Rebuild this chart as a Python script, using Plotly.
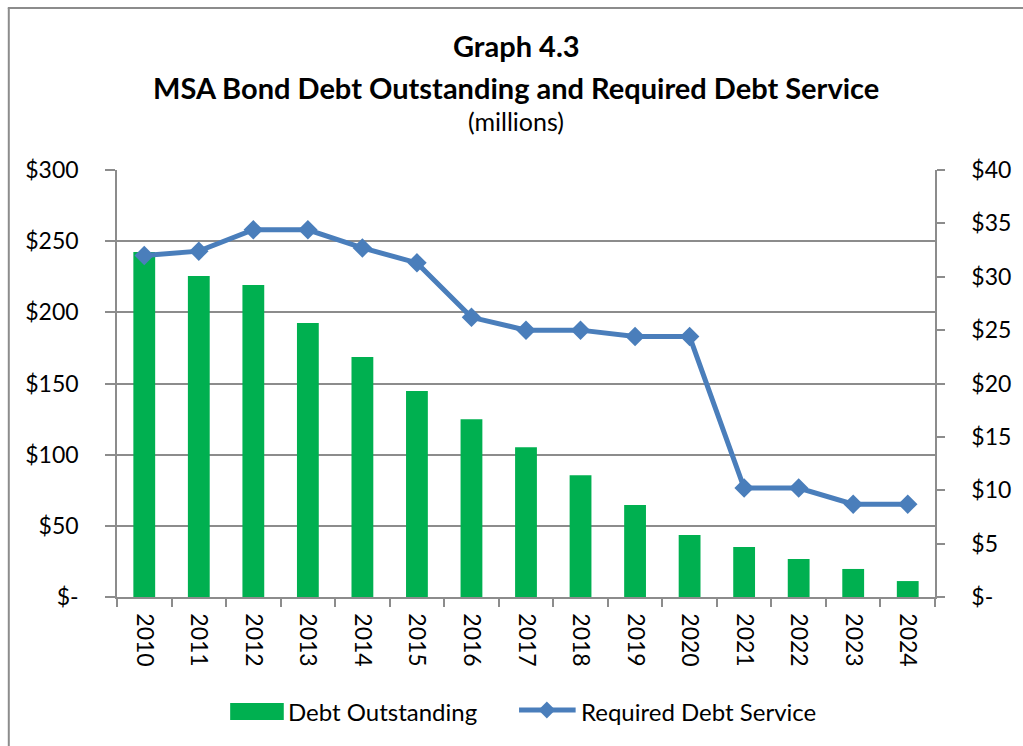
import plotly.graph_objects as go

years = ["2010", "2011", "2012", "2013", "2014", "2015", "2016", "2017",
         "2018", "2019", "2020", "2021", "2022", "2023", "2024"]
debt_outstanding = [242.4, 225.5, 219.2, 192.5, 168.6, 144.7, 124.8, 105.2,
                    85.5, 64.6, 43.6, 35.1, 26.7, 19.7, 11.2]
required_debt_service = [32.0, 32.4, 34.4, 34.4, 32.7, 31.3, 26.2, 25.0,
                         25.0, 24.4, 24.4, 10.2, 10.2, 8.7, 8.7]

left_ticks = [0, 50, 100, 150, 200, 250, 300]
left_labels = ["$-", "$50", "$100", "$150", "$200", "$250", "$300"]
right_ticks = [0, 5, 10, 15, 20, 25, 30, 35, 40]
right_labels = ["$-", "$5", "$10", "$15", "$20", "$25", "$30", "$35", "$40"]

FONT = "Lato"
GRID = "#8c8c8c"
GREEN = "#00B050"
BLUE = "#4A7EBB"

W, H = 1023, 746
L, R, T, B = 117, 82, 170, 149
PW, PH = W - L - R, H - T - B


def fx(x):
    """page pixel x -> paper fraction"""
    return (x - L) / PW


def fy(y):
    """page pixel y -> paper fraction"""
    return (H - B - y) / PH


fig = go.Figure()
fig.add_trace(go.Bar(
    x=years, y=debt_outstanding, name="Debt Outstanding",
    marker=dict(color=GREEN, line=dict(width=0)),
    yaxis="y",
))
fig.add_trace(go.Scatter(
    x=years, y=required_debt_service, name="Required Debt Service",
    mode="lines+markers",
    line=dict(color=BLUE, width=5),
    marker=dict(symbol="diamond", size=15, color=BLUE),
    yaxis="y2",
))

fig.update_layout(
    width=W, height=H,
    margin=dict(l=L, r=R, t=T, b=B),
    paper_bgcolor="white", plot_bgcolor="white",
    font=dict(family=FONT, size=23, color="black"),
    bargap=0.6,
    showlegend=False,
    xaxis=dict(type="category", range=[-0.5, len(years) - 0.5],
               tickangle=90, ticks="outside", ticklen=8,
               tickcolor=GRID, tickwidth=1.5, tickson="boundaries",
               showline=True, linecolor=GRID, linewidth=1.5, showgrid=False,
               ticklabelstandoff=10, tickfont=dict(size=23)),
    yaxis=dict(range=[0, 300], tickvals=left_ticks, ticktext=left_labels,
               ticks="outside", ticklen=10, tickcolor=GRID, tickwidth=1.5,
               showline=True, linecolor=GRID, linewidth=1.5,
               showgrid=True, gridcolor=GRID, gridwidth=1.5,
               ticklabelstandoff=22, zeroline=False, tickfont=dict(size=23)),
    yaxis2=dict(range=[0, 40], tickvals=right_ticks, ticktext=right_labels,
                overlaying="y", side="right", ticks="outside", ticklen=8,
                tickcolor=GRID, tickwidth=1.5, showline=True, linecolor=GRID,
                linewidth=1.5, showgrid=False, zeroline=False,
                ticklabelstandoff=22, tickfont=dict(size=23)),
)

# outer chart border (only left and top edges fall inside the picture)
fig.add_shape(type="line", xref="paper", yref="paper",
              x0=fx(8), x1=fx(8), y0=fy(8), y1=fy(760),
              line=dict(color=GRID, width=2), layer="below")
fig.add_shape(type="line", xref="paper", yref="paper",
              x0=fx(7), x1=fx(1030), y0=fy(8), y1=fy(8),
              line=dict(color=GRID, width=2), layer="below")

cx = fx(519)
fig.add_annotation(text="<b>Graph 4.3</b>", x=cx, y=fy(46), xref="paper", yref="paper",
                   showarrow=False, font=dict(size=29), xanchor="center", yanchor="middle")
fig.add_annotation(text="<b>MSA Bond Debt Outstanding and Required Debt Service</b>",
                   x=cx, y=fy(87), xref="paper", yref="paper",
                   showarrow=False, font=dict(size=29), xanchor="center", yanchor="middle")
fig.add_annotation(text="(millions)", x=cx, y=fy(121), xref="paper", yref="paper",
                   showarrow=False, font=dict(size=25), xanchor="center", yanchor="middle")

# legend (drawn manually to match the reference's swatches)
fig.add_shape(type="rect", xref="paper", yref="paper",
              x0=fx(231), x1=fx(285), y0=fy(703), y1=fy(720),
              line=dict(width=0), fillcolor=GREEN)
fig.add_annotation(text="Debt Outstanding", x=fx(287), y=fy(711), xref="paper", yref="paper",
                   showarrow=False, font=dict(size=24), xanchor="left", yanchor="middle")
fig.add_shape(type="line", xref="paper", yref="paper",
              x0=fx(522), x1=fx(579), y0=fy(710), y1=fy(710),
              line=dict(color=BLUE, width=5))
dcx, dcy, dh = 550, 710, 8.5
fig.add_shape(type="path", xref="paper", yref="paper",
              path=(f"M {fx(dcx - dh)},{fy(dcy)} L {fx(dcx)},{fy(dcy - dh)} "
                    f"L {fx(dcx + dh)},{fy(dcy)} L {fx(dcx)},{fy(dcy + dh)} Z"),
              line=dict(width=0), fillcolor=BLUE)
fig.add_annotation(text="Required Debt Service", x=fx(582), y=fy(711), xref="paper", yref="paper",
                   showarrow=False, font=dict(size=24), xanchor="left", yanchor="middle")

fig.write_html(
    "out.html",
    config={"displayModeBar": False},
    post_script=("document.body.style.margin='0';"
                 "document.body.style.overflow='hidden';"
                 "document.documentElement.style.overflow='hidden';"),
)
